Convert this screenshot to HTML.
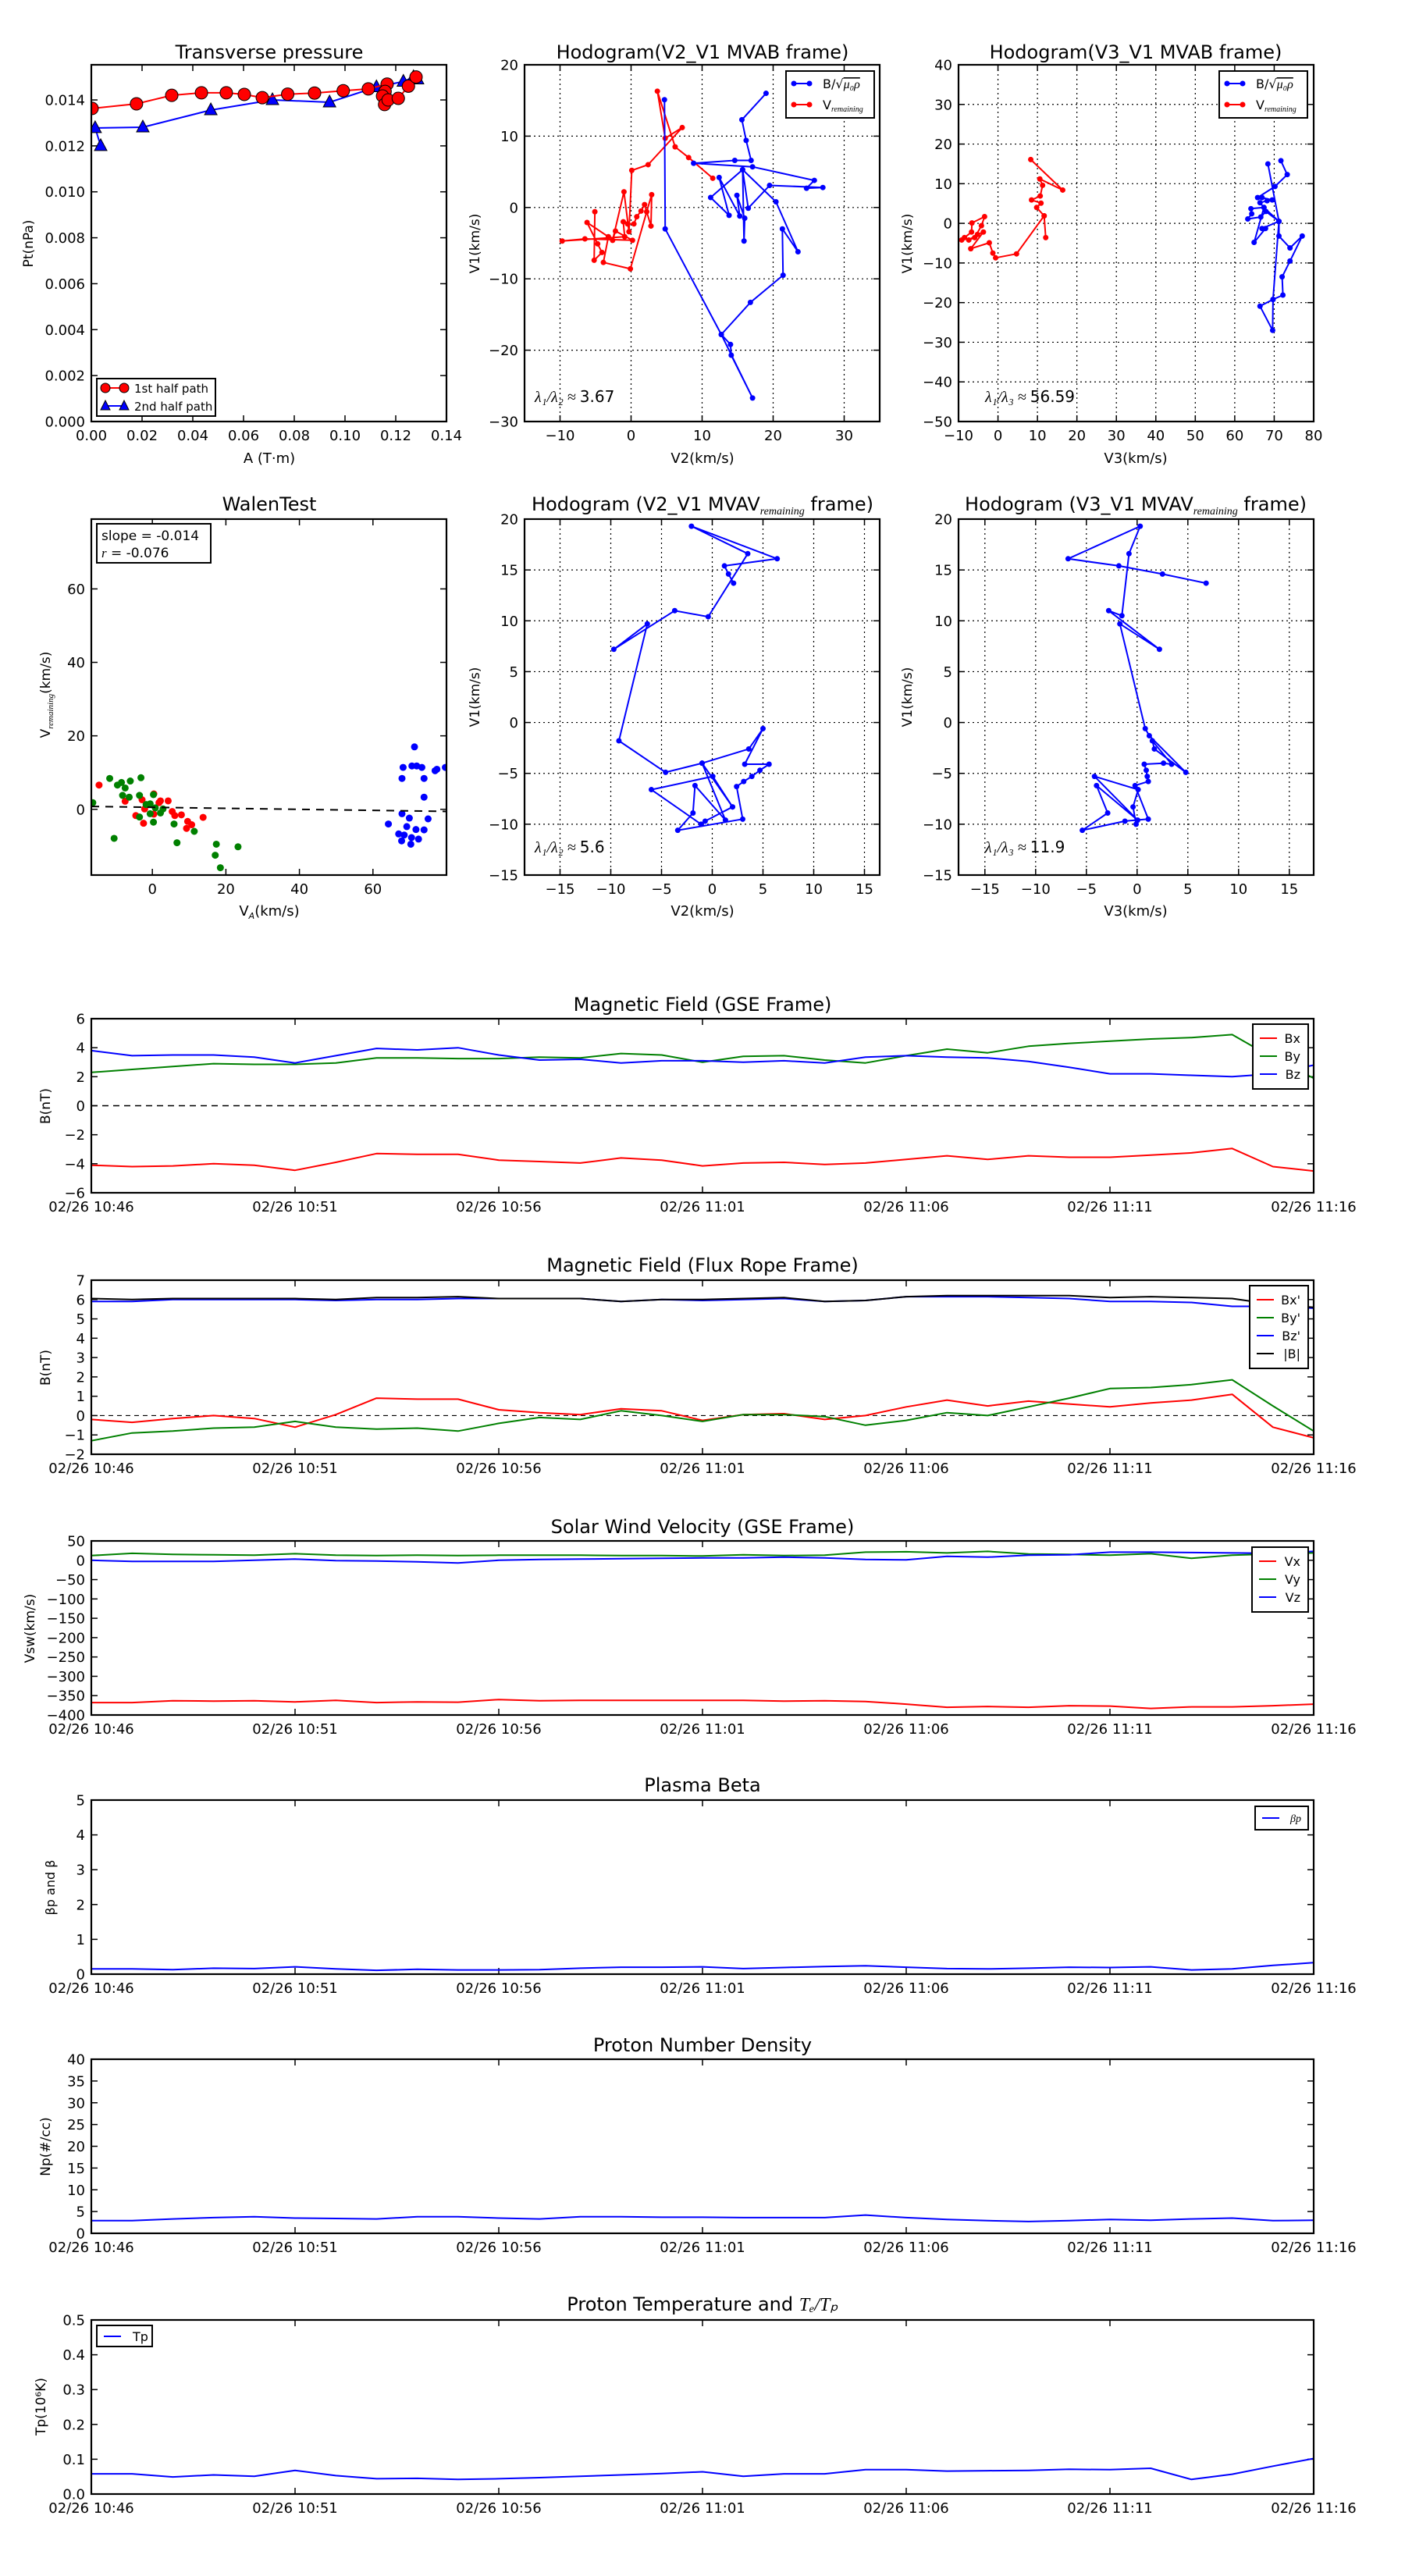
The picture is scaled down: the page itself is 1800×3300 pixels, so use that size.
<!DOCTYPE html>
<html><head><meta charset="utf-8"><title>Flux rope analysis</title>
<style>
html,body{margin:0;padding:0;background:#fff;}
svg{display:block;font-family:"DejaVu Sans","Liberation Sans",sans-serif;}
</style></head>
<body>
<svg id="fig" xmlns="http://www.w3.org/2000/svg" width="1800" height="3300" viewBox="0 0 1800 3300"></svg>
<script>
// ---------- time-series data (one sample per minute, 10:46 .. 11:16) ----------
const timeLabels = ["02/26 10:46","02/26 10:51","02/26 10:56","02/26 11:01","02/26 11:06","02/26 11:11","02/26 11:16"];
const gseBx = [-4.1,-4.2,-4.15,-4.0,-4.1,-4.45,-3.9,-3.3,-3.35,-3.35,-3.75,-3.85,-3.95,-3.6,-3.75,-4.15,-3.95,-3.9,-4.05,-3.95,-3.7,-3.45,-3.7,-3.45,-3.55,-3.55,-3.4,-3.25,-2.95,-4.2,-4.5];
const gseBy = [2.3,2.5,2.7,2.9,2.85,2.85,2.95,3.3,3.3,3.25,3.25,3.35,3.3,3.6,3.5,3.0,3.4,3.45,3.15,2.95,3.45,3.9,3.65,4.1,4.3,4.45,4.6,4.7,4.9,3.3,1.9];
const gseBz = [3.8,3.45,3.5,3.5,3.35,2.95,3.45,3.95,3.85,4.0,3.5,3.15,3.2,2.95,3.1,3.1,3.0,3.1,2.95,3.35,3.45,3.35,3.3,3.05,2.65,2.2,2.2,2.1,2.0,2.2,2.8];
const frBx = [-0.2,-0.35,-0.15,0.0,-0.15,-0.6,0.05,0.9,0.85,0.85,0.3,0.15,0.05,0.35,0.25,-0.25,0.05,0.1,-0.2,0.0,0.45,0.8,0.5,0.75,0.6,0.45,0.65,0.8,1.1,-0.6,-1.15];
const frBy = [-1.3,-0.9,-0.8,-0.65,-0.6,-0.3,-0.6,-0.7,-0.65,-0.8,-0.4,-0.1,-0.2,0.25,0.0,-0.3,0.05,0.05,-0.05,-0.5,-0.25,0.15,0.0,0.45,0.9,1.4,1.45,1.6,1.85,0.5,-0.8];
const frBz = [5.9,5.9,6.0,6.0,6.0,6.0,5.95,6.0,6.0,6.05,6.05,6.05,6.05,5.9,6.0,5.95,6.0,6.05,5.9,5.95,6.15,6.15,6.15,6.1,6.05,5.9,5.9,5.85,5.65,5.65,5.55];
const frBt = [6.05,6.0,6.05,6.05,6.05,6.05,6.0,6.1,6.1,6.15,6.05,6.05,6.05,5.9,6.0,6.0,6.05,6.1,5.9,5.95,6.15,6.2,6.2,6.2,6.2,6.1,6.15,6.1,6.05,5.75,5.6];
const vx = [-368,-368,-363,-364,-363,-366,-362,-368,-366,-367,-360,-363,-362,-362,-362,-362,-362,-364,-363,-365,-372,-380,-378,-380,-376,-377,-383,-379,-379,-376,-372];
const vy = [12,18,15,14,13,17,13,12,13,12,13,13,13,12,12,11,14,12,13,21,22,19,23,16,15,13,17,5,13,16,19];
const vz = [0,-3,-3,-3,0,3,-1,-2,-4,-7,0,2,3,4,5,6,6,8,6,2,1,10,8,13,14,21,21,20,19,18,23];
const betaP = [0.15,0.15,0.13,0.17,0.16,0.21,0.15,0.11,0.14,0.12,0.12,0.13,0.17,0.2,0.2,0.21,0.16,0.19,0.22,0.24,0.2,0.16,0.15,0.17,0.2,0.19,0.21,0.12,0.15,0.25,0.33];
const np = [2.9,2.9,3.3,3.6,3.8,3.5,3.4,3.3,3.8,3.8,3.5,3.3,3.8,3.8,3.7,3.7,3.6,3.6,3.6,4.2,3.6,3.2,2.9,2.7,2.9,3.2,3.0,3.3,3.5,2.9,3.0];
const tp = [0.058,0.058,0.049,0.055,0.051,0.068,0.053,0.044,0.045,0.042,0.044,0.047,0.051,0.055,0.059,0.064,0.051,0.058,0.058,0.070,0.070,0.066,0.067,0.068,0.071,0.070,0.074,0.042,0.057,0.080,0.102];

// ---------- transverse pressure ----------
const ptRedA = [0.0003,0.0178,0.0317,0.0434,0.0532,0.0603,0.0674,0.0774,0.088,0.0993,0.1092,0.1166,0.1158,0.1148,0.1156,0.117,0.121,0.125,0.128];
const ptRedP = [0.01363,0.01383,0.0142,0.01431,0.01431,0.01424,0.0141,0.01425,0.0143,0.0144,0.01448,0.01469,0.01437,0.01417,0.0138,0.0140,0.01407,0.0146,0.0150];
const ptBlueA = [0.0037,0.0015,0.0203,0.0471,0.0714,0.0939,0.1124,0.123,0.127,0.1286];
const ptBlueP = [0.0120,0.01278,0.01281,0.01356,0.0140,0.0139,0.01456,0.0148,0.0150,0.0149];

// ---------- hodograms MVAB ----------
const h1BlueX = [19.0,15.6,16.2,16.9,14.6,8.8,17.1,25.8,24.7,27.0,19.5,16.5,15.7,11.2,13.8,12.4,15.3,14.9,16.0,15.9,15.7,20.4,23.5,21.3,21.4,16.8,12.7,14.0,14.1,17.1,12.7,4.8,4.7];
const h1BlueY = [16.0,12.3,9.4,6.6,6.6,6.2,5.7,3.8,2.7,2.8,3.1,-0.1,5.3,1.4,-1.1,4.2,-1.2,1.7,-1.5,-4.7,5.3,0.8,-6.2,-3.0,-9.5,-13.3,-17.8,-19.2,-20.7,-26.7,-17.8,-3.0,15.1];
const h1RedX = [11.5,8.1,6.2,3.7,4.8,7.2,2.4,0.1,-0.3,-1.0,-2.6,-2.2,0.2,-6.5,-9.7,-0.9,-1.1,-0.5,0.4,0.8,1.4,1.9,2.8,2.9,2.2,-0.1,-3.9,-3.2,-6.2,-4.7,-4.1,-5.2,-5.1];
const h1RedY = [4.1,7.0,8.5,16.3,9.7,11.2,6.0,5.2,-3.4,2.2,-4.6,-3.3,-4.6,-4.4,-4.7,-4.1,-2.0,-2.3,-2.3,-1.3,-0.5,0.4,-2.6,1.8,-0.6,-8.6,-7.7,-4.1,-2.1,-5.1,-6.3,-7.4,-0.6];
const h2BlueX = [71.7,73.3,70.2,65.8,66.9,69.5,68.2,66.4,67.4,64.1,64.3,63.3,66.6,67.9,71.2,66.9,67.8,64.9,67.4,71.2,71.2,74.0,77.1,74.0,72.0,72.2,69.7,66.4,69.6,69.7,71.2,68.4];
const h2BlueY = [15.8,12.3,9.3,6.5,6.5,5.9,5.7,5.2,4.0,3.7,2.4,1.1,1.6,3.0,0.5,-1.3,-1.3,-4.8,4.0,0.5,-3.2,-6.2,-3.2,-9.5,-13.5,-18.1,-19.2,-20.9,-27.0,-19.2,0.5,15.0];
const h2RedX = [8.3,16.4,10.6,11.3,10.7,8.5,10.9,9.8,11.7,12.1,11.7,4.7,-0.6,-1.3,-2.2,-6.9,-3.7,-5.2,-7.4,-5.9,-4.2,-3.4,-6.6,-6.7,-8.5,-9.2];
const h2RedY = [16.1,8.4,11.2,9.6,6.9,5.9,5.1,4.0,1.9,-3.6,1.9,-7.7,-8.7,-7.5,-4.9,-6.4,-2.2,-2.8,-4.2,-3.6,-0.6,1.7,0.1,-2.2,-3.6,-4.2];

// ---------- Walen test ----------
const walenBlueX = [68.2,70.6,71.9,73.3,67.9,73.9,76.9,77.4,79.7,73.9,71.3,67.9,69.9,69.2,64.2,71.7,73.9,75.0,67.0,68.5,67.8,70.3,72.4,70.5];
const walenBlueY = [11.4,11.8,11.8,11.4,8.4,8.4,10.5,10.9,11.4,3.3,17.0,-1.2,-2.4,-4.7,-4.0,-5.5,-5.6,-2.6,-6.7,-7.0,-8.6,-9.5,-8.1,-7.7];
const walenRedX = [-14.5,-7.4,-2.8,0.4,2.2,4.3,-2.1,-4.5,-2.4,0.4,5.4,7.9,9.6,9.3,10.7,13.8,6.1,1.8];
const walenRedY = [6.6,2.2,2.6,4.2,2.3,2.3,0.1,-1.7,-3.8,-1.3,-0.6,-1.5,-3.3,-5.2,-4.2,-2.2,-1.7,1.8];
const walenGreenX = [-16.2,-11.6,-9.5,-8.4,-6.0,-3.1,-7.4,-8.1,-6.3,-3.5,0.3,-1.7,-0.6,0.8,2.9,2.2,-0.6,-3.5,0.3,5.9,11.4,-10.4,6.7,17.4,23.3,17.1,18.5];
const walenGreenY = [1.8,8.4,6.6,7.3,7.7,8.6,5.8,3.8,3.3,3.8,4.0,1.3,1.5,0.4,0.1,-1.0,-1.2,-2.1,-3.5,-4.0,-6.0,-7.9,-9.1,-9.5,-10.2,-12.5,-15.9];
const walenFit = [-0.014, 0.55]; // slope, intercept

// ---------- hodograms MVAV ----------
const h3X = [2.1,1.6,1.2,6.4,-2.05,3.5,-0.4,-3.7,-9.7,-6.4,-9.2,-4.6,-1.0,3.6,5.0,3.2,5.6,4.7,3.9,3.1,2.4,3.0,-3.4,-1.9,-1.7,1.3,-1.0,2.0,0.05,-6.0,-1.1,-0.7,2.0];
const h3Y = [13.7,14.6,15.4,16.1,19.3,16.6,10.4,11.0,7.2,9.7,-1.8,-4.9,-4.0,-2.6,-0.6,-4.1,-4.1,-4.7,-5.3,-5.8,-6.3,-9.5,-10.6,-8.9,-6.2,-9.6,-4.0,-8.3,-5.3,-6.6,-10.0,-9.7,-8.3];
const h4X = [6.8,2.5,-1.8,-6.8,0.3,-0.8,-1.5,-2.8,2.2,-1.7,0.8,1.2,4.8,1.7,1.5,3.4,2.6,0.7,0.9,1.0,1.1,-0.2,1.1,-1.2,-5.4,-2.9,-4.0,0.05,-4.2,0.1,-0.4,-0.1];
const h4Y = [13.7,14.6,15.4,16.1,19.3,16.6,10.5,11.0,7.2,9.7,-0.6,-1.3,-4.9,-2.6,-1.8,-4.1,-4.0,-4.1,-4.7,-5.3,-5.8,-6.2,-9.5,-9.7,-10.6,-8.9,-6.2,-9.6,-5.3,-6.6,-8.3,-10.0];

// ================= drawing helpers =================
const NS = "http://www.w3.org/2000/svg";
const svg = document.getElementById('fig');
function mk(parent, tag, attrs, name) {
  const el = document.createElementNS(NS, tag);
  for (const k in attrs) el.setAttribute(k, attrs[k]);
  
  
  parent.appendChild(el);
  return el;
}
function txt(parent, x, y, s, size, anchor, name, extra) {
  const a = {x:x, y:y, 'font-size':size, 'text-anchor':anchor||'middle', fill:'#000'};
  if (extra) for (const k in extra) a[k] = extra[k];
  const t = mk(parent, 'text', a, name);
  t.textContent = s;
  return t;
}
const fmtMinus = v => String(v).replace('-', '\u2212');

function makeAxes(o) {
  const g = mk(svg, 'g', {}, o.name);
  const sx = v => o.x0 + (v - o.xmin) / (o.xmax - o.xmin) * o.w;
  const sy = v => o.y0 + o.h - (v - o.ymin) / (o.ymax - o.ymin) * o.h;
  const clipId = 'clip-' + o.name;
  const defs = mk(g, 'defs', {}, o.name + '-defs');
  const cp = mk(defs, 'clipPath', {id: clipId}, o.name + '-clip');
  mk(cp, 'rect', {x:o.x0, y:o.y0, width:o.w, height:o.h}, o.name + '-clip-rect');
  const tl = 8;
  // grid + ticks
  o.xticks.forEach((v, i) => {
    const X = sx(v);
    if (o.grid) mk(g, 'line', {x1:X, y1:o.y0, x2:X, y2:o.y0+o.h, stroke:'#000', 'stroke-width':1.2, 'stroke-dasharray':'2,4'}, o.name + '-xgrid');
    mk(g, 'line', {x1:X, y1:o.y0+o.h, x2:X, y2:o.y0+o.h-tl, stroke:'#000', 'stroke-width':1.5}, o.name + '-xtick');
    mk(g, 'line', {x1:X, y1:o.y0, x2:X, y2:o.y0+tl, stroke:'#000', 'stroke-width':1.5}, o.name + '-xtick-top');
    const lab = o.xlabels ? o.xlabels[i] : fmtMinus(o.xfmt ? o.xfmt(v) : v);
    txt(g, X, o.y0 + o.h + 24, lab, 18, 'middle', o.name + '-xtick-label');
  });
  o.yticks.forEach(v => {
    const Y = sy(v);
    if (o.grid) mk(g, 'line', {x1:o.x0, y1:Y, x2:o.x0+o.w, y2:Y, stroke:'#000', 'stroke-width':1.2, 'stroke-dasharray':'2,4'}, o.name + '-ygrid');
    mk(g, 'line', {x1:o.x0, y1:Y, x2:o.x0+tl, y2:Y, stroke:'#000', 'stroke-width':1.5}, o.name + '-ytick');
    mk(g, 'line', {x1:o.x0+o.w, y1:Y, x2:o.x0+o.w-tl, y2:Y, stroke:'#000', 'stroke-width':1.5}, o.name + '-ytick-right');
    txt(g, o.x0 - 8, Y + 6.5, fmtMinus(o.yfmt ? o.yfmt(v) : v), 18, 'end', o.name + '-ytick-label');
  });
  const plot = mk(g, 'g', {'clip-path':'url(#' + clipId + ')'}, o.name + '-plot-area');
  return {g, plot, sx, sy, o};
}
function frame(ax) {
  const o = ax.o;
  mk(ax.g, 'rect', {x:o.x0, y:o.y0, width:o.w, height:o.h, fill:'none', stroke:'#000', 'stroke-width':2.2}, ax.o.name + '-frame');
}
function polyline(ax, xs, ys, color, name, width) {
  const pts = xs.map((x, i) => ax.sx(x).toFixed(1) + ',' + ax.sy(ys[i]).toFixed(1)).join(' ');
  return mk(ax.plot, 'polyline', {points:pts, fill:'none', stroke:color, 'stroke-width':width||2, 'stroke-linejoin':'round'}, name);
}
function dots(ax, xs, ys, color, r, name) {
  xs.forEach((x, i) => {
    mk(ax.plot, 'circle', {cx:ax.sx(x), cy:ax.sy(ys[i]), r:r, fill:color, stroke: r > 5 ? '#000' : 'none', 'stroke-width':1}, name);
  });
}
function tris(ax, xs, ys, color, name) {
  xs.forEach((x, i) => {
    const X = ax.sx(x), Y = ax.sy(ys[i]);
    mk(ax.plot, 'polygon', {points:`${X},${Y-9} ${X-8},${Y+6} ${X+8},${Y+6}`, fill:color, stroke:'#000', 'stroke-width':1}, name);
  });
}
function title(x, y, s, name) { return txt(svg, x, y, s, 24, 'middle', name); }
function ylabel(x, y, s, name, size) {
  return txt(svg, x, y, s, size||17, 'middle', name, {transform:`rotate(-90 ${x} ${y})`});
}
function legendBox(x, y, w, h, name) {
  const g = mk(svg, 'g', {}, name);
  mk(g, 'rect', {x:x, y:y, width:w, height:h, fill:'#fff', stroke:'#000', 'stroke-width':2}, name + '-box');
  return g;
}
const seq = n => Array.from({length:n}, (_, i) => i);
const range = (a, b, s) => { const r = []; for (let v = a; v <= b + 1e-9; v += s) r.push(+v.toFixed(6)); return r; };

// ================= Row 1 =================
// Transverse pressure
(function(){
  const ax = makeAxes({name:'transverse-pressure-chart', x0:117, y0:83, w:455, h:457, xmin:0, xmax:0.14, ymin:0, ymax:0.01553,
    xticks:range(0,0.14,0.02), yticks:range(0,0.014,0.002), xfmt:v=>v.toFixed(2), yfmt:v=>v.toFixed(3)});
  polyline(ax, ptBlueA, ptBlueP, '#0000ff', 'second-half-path-line');
  tris(ax, ptBlueA, ptBlueP, '#0000ff', 'second-half-path-marker');
  polyline(ax, ptRedA, ptRedP, '#ff0000', 'first-half-path-line');
  dots(ax, ptRedA, ptRedP, '#ff0000', 8, 'first-half-path-marker');
  frame(ax);
  title(345, 75, 'Transverse pressure', 'transverse-pressure-title');
  ylabel(42, 312, 'Pt(nPa)', 'pt-y-axis-title');
  txt(svg, 345, 593, 'A (T\u00b7m)', 18, 'middle', 'a-x-axis-title');
  const lg = legendBox(124, 485, 152, 48, 'transverse-legend');
  mk(lg, 'line', {x1:132, y1:497, x2:162, y2:497, stroke:'#ff0000', 'stroke-width':2}, 'legend-first-half-line');
  mk(lg, 'circle', {cx:135, cy:497, r:6, fill:'#ff0000', stroke:'#000'}, 'legend-first-half-marker');
  mk(lg, 'circle', {cx:159, cy:497, r:6, fill:'#ff0000', stroke:'#000'}, 'legend-first-half-marker');
  txt(lg, 172, 503, '1st half path', 15, 'start', 'legend-first-half-label');
  mk(lg, 'line', {x1:132, y1:520, x2:162, y2:520, stroke:'#0000ff', 'stroke-width':2}, 'legend-second-half-line');
  mk(lg, 'polygon', {points:'135,513 129,525 141,525', fill:'#0000ff', stroke:'#000'}, 'legend-second-half-marker');
  mk(lg, 'polygon', {points:'159,513 153,525 165,525', fill:'#0000ff', stroke:'#000'}, 'legend-second-half-marker');
  txt(lg, 172, 526, '2nd half path', 15, 'start', 'legend-second-half-label');
})();

function hodoLegend(x, name) {
  const lg = legendBox(x, 91, 113, 60, name);
  mk(lg, 'line', {x1:x+8, y1:107, x2:x+30, y2:107, stroke:'#0000ff', 'stroke-width':2}, name + '-b-line');
  mk(lg, 'circle', {cx:x+10, cy:107, r:3.5, fill:'#0000ff'}, name + '-b-marker');
  mk(lg, 'circle', {cx:x+30, cy:107, r:3.5, fill:'#0000ff'}, name + '-b-marker');
  const t1 = txt(lg, x+47, 113, 'B/\u221a', 16, 'start', name + '-b-label');
  const ts = document.createElementNS(NS, 'tspan');
  ts.setAttribute('font-family', '"Liberation Serif", serif');
  ts.setAttribute('font-style', 'italic');
  ts.setAttribute('text-decoration', 'overline');
  ts.textContent = '\u03bc\u2080\u03c1';
  t1.appendChild(ts);
  mk(lg, 'line', {x1:x+8, y1:134, x2:x+30, y2:134, stroke:'#ff0000', 'stroke-width':2}, name + '-v-line');
  mk(lg, 'circle', {cx:x+10, cy:134, r:3.5, fill:'#ff0000'}, name + '-v-marker');
  mk(lg, 'circle', {cx:x+30, cy:134, r:3.5, fill:'#ff0000'}, name + '-v-marker');
  const t2 = txt(lg, x+47, 140, 'V', 16, 'start', name + '-v-label');
  const ts2 = document.createElementNS(NS, 'tspan');
  ts2.setAttribute('font-size', '10');
  ts2.setAttribute('font-style', 'italic');
  ts2.setAttribute('font-family', '"Liberation Serif", serif');
  ts2.setAttribute('dy', '3');
  ts2.textContent = 'remaining';
  t2.appendChild(ts2);
}
function ratioText(x, y, sub, val, name) {
  const t = txt(svg, x, y, '', 20, 'start', name);
  const a = document.createElementNS(NS, 'tspan');
  a.setAttribute('font-family', '"Liberation Serif", serif');
  a.setAttribute('font-style', 'italic');
  a.textContent = '\u03bb\u2081/\u03bb' + sub + ' \u2248 ';
  t.appendChild(a);
  const b = document.createElementNS(NS, 'tspan');
  b.textContent = val;
  t.appendChild(b);
}

// Hodogram V2_V1 MVAB
(function(){
  const ax = makeAxes({name:'hodogram-v2-v1-mvab-chart', x0:672, y0:83, w:455, h:457, xmin:-15, xmax:35, ymin:-30, ymax:20,
    xticks:range(-10,30,10), yticks:range(-30,20,10), grid:true});
  polyline(ax, h1RedX, h1RedY, '#ff0000', 'v-remaining-line');
  dots(ax, h1RedX, h1RedY, '#ff0000', 3.5, 'v-remaining-point');
  polyline(ax, h1BlueX, h1BlueY, '#0000ff', 'b-alfven-line');
  dots(ax, h1BlueX, h1BlueY, '#0000ff', 3.5, 'b-alfven-point');
  frame(ax);
  hodoLegend(1007, 'hodogram-mvab-legend');
  ratioText(685, 515, '\u2082', '3.67', 'eigen-ratio-label');
  title(900, 75, 'Hodogram(V2_V1 MVAB frame)', 'hodogram-v2-v1-mvab-title');
  ylabel(614, 312, 'V1(km/s)', 'v1-y-axis-title');
  txt(svg, 900, 593, 'V2(km/s)', 18, 'middle', 'v2-x-axis-title');
})();

// Hodogram V3_V1 MVAB
(function(){
  const ax = makeAxes({name:'hodogram-v3-v1-mvab-chart', x0:1228, y0:83, w:455, h:457, xmin:-10, xmax:80, ymin:-50, ymax:40,
    xticks:range(-10,80,10), yticks:range(-50,40,10), grid:true});
  polyline(ax, h2RedX, h2RedY, '#ff0000', 'v-remaining-line');
  dots(ax, h2RedX, h2RedY, '#ff0000', 3.5, 'v-remaining-point');
  polyline(ax, h2BlueX, h2BlueY, '#0000ff', 'b-alfven-line');
  dots(ax, h2BlueX, h2BlueY, '#0000ff', 3.5, 'b-alfven-point');
  frame(ax);
  hodoLegend(1562, 'hodogram-mvab-v3-legend');
  ratioText(1262, 515, '\u2083', '56.59', 'eigen-ratio-label');
  title(1455, 75, 'Hodogram(V3_V1 MVAB frame)', 'hodogram-v3-v1-mvab-title');
  ylabel(1168, 312, 'V1(km/s)', 'v1-y-axis-title');
  txt(svg, 1455, 593, 'V3(km/s)', 18, 'middle', 'v3-x-axis-title');
})();

// ================= Row 2 =================
(function(){
  const ax = makeAxes({name:'walen-test-chart', x0:117, y0:665, w:455, h:456, xmin:-16.6, xmax:80, ymin:-17.9, ymax:79,
    xticks:[0,20,40,60], yticks:[0,20,40,60]});
  dots(ax, walenBlueX, walenBlueY, '#0000ff', 4.5, 'walen-blue-point');
  dots(ax, walenRedX, walenRedY, '#ff0000', 4.5, 'walen-red-point');
  dots(ax, walenGreenX, walenGreenY, '#008000', 4.5, 'walen-green-point');
  const fx = [-16.6, 80];
  const fy = fx.map(v => walenFit[0] * v + walenFit[1]);
  mk(ax.plot, 'line', {x1:ax.sx(fx[0]), y1:ax.sy(fy[0]), x2:ax.sx(fx[1]), y2:ax.sy(fy[1]), stroke:'#000', 'stroke-width':2, 'stroke-dasharray':'10,8'}, 'walen-fit-line');
  frame(ax);
  const lg = legendBox(124, 671, 146, 50, 'walen-stats-box');
  txt(lg, 130, 692, 'slope = -0.014', 17, 'start', 'slope-label');
  const r = txt(lg, 130, 714, '', 17, 'start', 'correlation-label');
  const ri = document.createElementNS(NS, 'tspan');
  ri.setAttribute('font-style', 'italic');
  ri.setAttribute('font-family', '"Liberation Serif", serif');
  ri.textContent = 'r';
  r.appendChild(ri);
  const rv = document.createElementNS(NS, 'tspan');
  rv.textContent = ' = -0.076';
  r.appendChild(rv);
  title(345, 654, 'WalenTest', 'walen-test-title');
  const yl = ylabel(64, 890, 'V', 'v-remaining-y-axis-title');
  const ys = document.createElementNS(NS, 'tspan');
  ys.setAttribute('font-size', '11'); ys.setAttribute('font-style', 'italic'); ys.setAttribute('dy', '4');
  ys.setAttribute('font-family', '"Liberation Serif", serif');
  ys.textContent = 'remaining';
  yl.appendChild(ys);
  const ys2 = document.createElementNS(NS, 'tspan');
  ys2.setAttribute('dy', '-4');
  ys2.textContent = '(km/s)';
  yl.appendChild(ys2);
  const xl = txt(svg, 345, 1173, 'V', 18, 'middle', 'va-x-axis-title');
  const xs = document.createElementNS(NS, 'tspan');
  xs.setAttribute('font-size', '11'); xs.setAttribute('font-style', 'italic'); xs.setAttribute('dy', '4');
  xs.textContent = 'A';
  xl.appendChild(xs);
  const xs2 = document.createElementNS(NS, 'tspan');
  xs2.setAttribute('dy', '-4');
  xs2.textContent = '(km/s)';
  xl.appendChild(xs2);
})();

function mvavTitle(x, s1, s2, name) {
  const t = title(x, 654, s1, name);
  const a = document.createElementNS(NS, 'tspan');
  a.setAttribute('font-size', '14'); a.setAttribute('font-style', 'italic'); a.setAttribute('dy', '5');
  a.setAttribute('font-family', '"Liberation Serif", serif');
  a.textContent = 'remaining';
  t.appendChild(a);
  const b = document.createElementNS(NS, 'tspan');
  b.setAttribute('dy', '-5');
  b.textContent = s2;
  t.appendChild(b);
}
(function(){
  const ax = makeAxes({name:'hodogram-v2-v1-mvav-chart', x0:672, y0:665, w:455, h:456, xmin:-18.5, xmax:16.5, ymin:-15, ymax:20,
    xticks:range(-15,15,5), yticks:range(-15,20,5), grid:true});
  polyline(ax, h3X, h3Y, '#0000ff', 'mvav-v2-line');
  dots(ax, h3X, h3Y, '#0000ff', 3.5, 'mvav-v2-point');
  frame(ax);
  ratioText(685, 1092, '\u2082', '5.6', 'eigen-ratio-label');
  mvavTitle(900, 'Hodogram (V2_V1 MVAV', ' frame)', 'hodogram-v2-v1-mvav-title');
  ylabel(614, 893, 'V1(km/s)', 'v1-y-axis-title');
  txt(svg, 900, 1173, 'V2(km/s)', 18, 'middle', 'v2-x-axis-title');
})();
(function(){
  const ax = makeAxes({name:'hodogram-v3-v1-mvav-chart', x0:1228, y0:665, w:455, h:456, xmin:-17.6, xmax:17.4, ymin:-15, ymax:20,
    xticks:range(-15,15,5), yticks:range(-15,20,5), grid:true});
  polyline(ax, h4X, h4Y, '#0000ff', 'mvav-v3-line');
  dots(ax, h4X, h4Y, '#0000ff', 3.5, 'mvav-v3-point');
  frame(ax);
  ratioText(1262, 1092, '\u2083', '11.9', 'eigen-ratio-label');
  mvavTitle(1455, 'Hodogram (V3_V1 MVAV', ' frame)', 'hodogram-v3-v1-mvav-title');
  ylabel(1168, 893, 'V1(km/s)', 'v1-y-axis-title');
  txt(svg, 1455, 1173, 'V3(km/s)', 18, 'middle', 'v3-x-axis-title');
})();

// ================= Time series =================
function tsAxes(name, y0, ymin, ymax, yticks, yfmt) {
  return makeAxes({name:name, x0:117, y0:y0, w:1566, h:223, xmin:0, xmax:30, ymin:ymin, ymax:ymax,
    xticks:[0,5,10,15,20,25,30], xlabels:timeLabels, yticks:yticks, yfmt:yfmt});
}
function tsLegend(x, y, w, entries, name) {
  const lg = legendBox(x, y, w, 14 + entries.length * 23, name);
  entries.forEach((e, i) => {
    const Y = y + 18 + i * 23;
    mk(lg, 'line', {x1:x+9, y1:Y, x2:x+31, y2:Y, stroke:e[1], 'stroke-width':2}, name + '-swatch');
    txt(lg, x+w-10, Y+6, e[0], 16, 'end', name + '-label');
  });
}
const idx = seq(31);

(function(){
  const ax = tsAxes('gse-magnetic-field-chart', 1305, -6, 6, range(-6,6,2));
  mk(ax.plot, 'line', {x1:ax.sx(0), y1:ax.sy(0), x2:ax.sx(30), y2:ax.sy(0), stroke:'#000', 'stroke-width':1.5, 'stroke-dasharray':'8,6'}, 'zero-line');
  polyline(ax, idx, gseBx, '#ff0000', 'bx-line');
  polyline(ax, idx, gseBy, '#008000', 'by-line');
  polyline(ax, idx, gseBz, '#0000ff', 'bz-line');
  frame(ax);
  tsLegend(1605, 1312, 71, [['Bx','#ff0000'],['By','#008000'],['Bz','#0000ff']], 'gse-legend');
  title(900, 1295, 'Magnetic Field (GSE Frame)', 'gse-magnetic-field-title');
  ylabel(64, 1417, 'B(nT)', 'b-y-axis-title');
})();
(function(){
  const ax = tsAxes('flux-rope-magnetic-field-chart', 1640, -2, 7, range(-2,7,1));
  mk(ax.plot, 'line', {x1:ax.sx(0), y1:ax.sy(0), x2:ax.sx(30), y2:ax.sy(0), stroke:'#000', 'stroke-width':1.2, 'stroke-dasharray':'6,5'}, 'zero-line');
  polyline(ax, idx, frBx, '#ff0000', 'bx-prime-line');
  polyline(ax, idx, frBy, '#008000', 'by-prime-line');
  polyline(ax, idx, frBz, '#0000ff', 'bz-prime-line');
  polyline(ax, idx, frBt, '#000000', 'b-magnitude-line');
  frame(ax);
  tsLegend(1601, 1647, 75, [["Bx'",'#ff0000'],["By'",'#008000'],["Bz'",'#0000ff'],['|B|','#000000']], 'flux-rope-legend');
  title(900, 1629, 'Magnetic Field (Flux Rope Frame)', 'flux-rope-magnetic-field-title');
  ylabel(64, 1752, 'B(nT)', 'b-y-axis-title');
})();
(function(){
  const ax = tsAxes('solar-wind-velocity-chart', 1974, -400, 50, range(-400,50,50));
  polyline(ax, idx, vx, '#ff0000', 'vx-line');
  polyline(ax, idx, vy, '#008000', 'vy-line');
  polyline(ax, idx, vz, '#0000ff', 'vz-line');
  frame(ax);
  tsLegend(1604, 1982, 72, [['Vx','#ff0000'],['Vy','#008000'],['Vz','#0000ff']], 'velocity-legend');
  title(900, 1964, 'Solar Wind Velocity (GSE Frame)', 'solar-wind-velocity-title');
  ylabel(44, 2086, 'Vsw(km/s)', 'vsw-y-axis-title');
})();
(function(){
  const ax = tsAxes('plasma-beta-chart', 2306, 0, 5, range(0,5,1));
  polyline(ax, idx, betaP, '#0000ff', 'beta-p-line');
  frame(ax);
  const lg = legendBox(1608, 2314, 68, 30, 'beta-legend');
  mk(lg, 'line', {x1:1617, y1:2329, x2:1639, y2:2329, stroke:'#0000ff', 'stroke-width':2}, 'beta-legend-swatch');
  txt(lg, 1660, 2334, '\u03b2p', 14, 'middle', 'beta-legend-label', {'font-style':'italic', 'font-family':'"Liberation Serif", serif'});
  title(900, 2295, 'Plasma Beta', 'plasma-beta-title');
  ylabel(70, 2418, '\u03b2p and \u03b2', 'beta-y-axis-title', 16);
})();
(function(){
  const ax = tsAxes('proton-density-chart', 2638, 0, 40, range(0,40,5));
  polyline(ax, idx, np, '#0000ff', 'np-line');
  frame(ax);
  title(900, 2628, 'Proton Number Density', 'proton-density-title');
  ylabel(64, 2750, 'Np(#/cc)', 'np-y-axis-title');
})();
(function(){
  const ax = tsAxes('proton-temperature-chart', 2972, 0, 0.5, range(0,0.5,0.1), v => v.toFixed(1));
  polyline(ax, idx, tp, '#0000ff', 'tp-line');
  frame(ax);
  const lg = legendBox(124, 2979, 71, 27, 'temperature-legend');
  mk(lg, 'line', {x1:133, y1:2993, x2:155, y2:2993, stroke:'#0000ff', 'stroke-width':2}, 'tp-legend-swatch');
  txt(lg, 170, 2999, 'Tp', 16, 'start', 'tp-legend-label');
  const t = title(900, 2960, 'Proton Temperature and ', 'proton-temperature-title');
  const m = document.createElementNS(NS, 'tspan');
  m.setAttribute('font-family', '"Liberation Serif", serif');
  m.setAttribute('font-style', 'italic');
  m.textContent = 'T\u2091/T\u209a';
  t.appendChild(m);
  ylabel(58, 3083, 'Tp(10\u2076K)', 'tp-y-axis-title');
})();
</script>
</body></html>
